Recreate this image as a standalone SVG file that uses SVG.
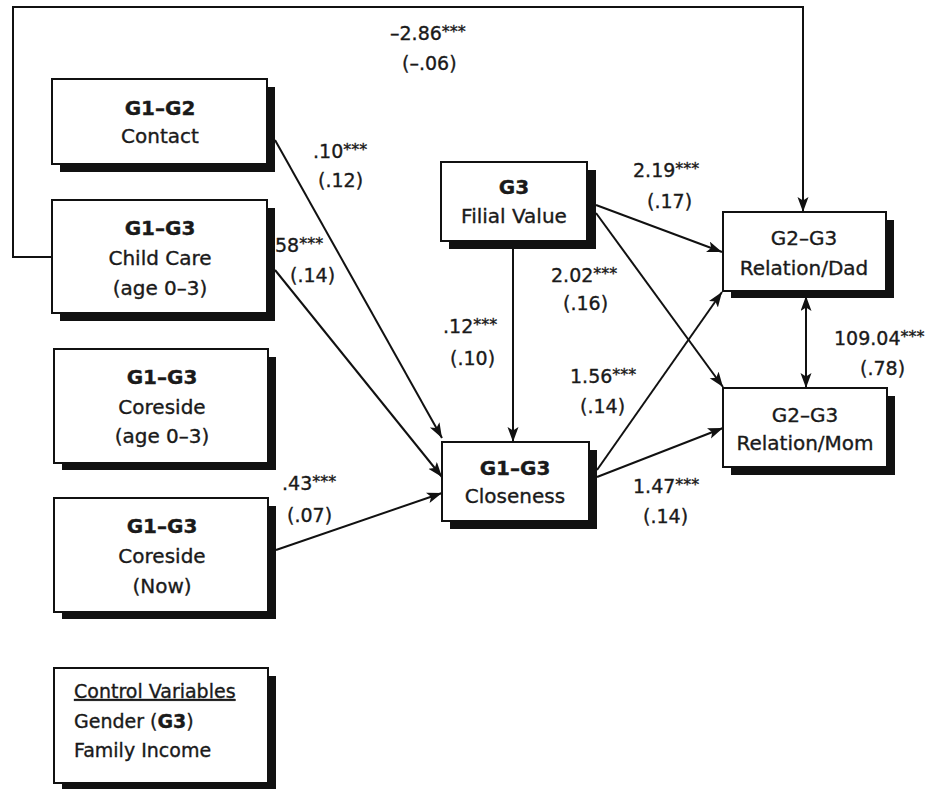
<svg xmlns="http://www.w3.org/2000/svg" width="931" height="789" viewBox="0 0 931 789">
<style>
.shadow{fill:#111}
.box{fill:#fff;stroke:#111;stroke-width:2}
.t{font-family:"DejaVu Sans","Liberation Sans",sans-serif;font-size:20px;fill:#1a1a1a;stroke:#1a1a1a;stroke-width:0.35;text-anchor:middle}
.b{font-weight:bold}
.lab{font-family:"DejaVu Sans","Liberation Sans",sans-serif;font-size:19px;fill:#1a1a1a;stroke:#1a1a1a;stroke-width:0.35}
.st{font-size:16px}
.edge{fill:none;stroke:#111;stroke-width:2}
</style>
<defs>
<marker id="ah" markerUnits="userSpaceOnUse" markerWidth="18" markerHeight="12" refX="15" refY="5.5" orient="auto-start-reverse">
<path d="M0,0 L15,5.5 L0,11 L3.5,5.5 Z" fill="#111"/>
</marker>
</defs>
<rect width="931" height="789" fill="#fff"/>

<g id="connectors">
<path class="edge" d="M52,257 L13,257 L13,7 L803,7 L803,212" marker-end="url(#ah)"/>
<path class="edge" d="M275,140 L442,438" marker-end="url(#ah)"/>
<path class="edge" d="M275,270 L442,477" marker-end="url(#ah)"/>
<path class="edge" d="M276,550 L442,493" marker-end="url(#ah)"/>
<path class="edge" d="M513,248 L513,442" marker-end="url(#ah)"/>
<path class="edge" d="M596,205 L722,252" marker-end="url(#ah)"/>
<path class="edge" d="M596,213 L723,387" marker-end="url(#ah)"/>
<path class="edge" d="M597,470 L722,292" marker-end="url(#ah)"/>
<path class="edge" d="M597,477 L723,428" marker-end="url(#ah)"/>
<path class="edge" d="M806,296 L806,388" marker-start="url(#ah)" marker-end="url(#ah)"/>
</g>

<g id="labels">
<text class="lab" x="390" y="40">–2.86<tspan class="st" dy="-3">***</tspan></text>
<text class="lab" x="402" y="70">(–.06)</text>
<text class="lab" x="313" y="158">.10<tspan class="st" dy="-3">***</tspan></text>
<text class="lab" x="318" y="187">(.12)</text>
<text class="lab" x="275" y="252">58<tspan class="st" dy="-3">***</tspan></text>
<text class="lab" x="290" y="282">(.14)</text>
<text class="lab" x="282" y="490">.43<tspan class="st" dy="-3">***</tspan></text>
<text class="lab" x="287" y="522">(.07)</text>
<text class="lab" x="443" y="333">.12<tspan class="st" dy="-3">***</tspan></text>
<text class="lab" x="450" y="365">(.10)</text>
<text class="lab" x="633" y="177">2.19<tspan class="st" dy="-3">***</tspan></text>
<text class="lab" x="647" y="208">(.17)</text>
<text class="lab" x="551" y="282">2.02<tspan class="st" dy="-3">***</tspan></text>
<text class="lab" x="563" y="310">(.16)</text>
<text class="lab" x="570" y="383">1.56<tspan class="st" dy="-3">***</tspan></text>
<text class="lab" x="580" y="413">(.14)</text>
<text class="lab" x="633" y="493">1.47<tspan class="st" dy="-3">***</tspan></text>
<text class="lab" x="643" y="523">(.14)</text>
<text class="lab" x="834" y="345">109.04<tspan class="st" dy="-3">***</tspan></text>
<text class="lab" x="860" y="375">(.78)</text>
</g>

<g id="contact">
<rect class="shadow" x="60" y="87" width="215" height="85"/>
<rect class="box" x="52" y="79" width="215" height="85"/>
<text class="t b" x="160" y="115">G1–G2</text>
<text class="t" x="160" y="143">Contact</text>
</g>

<g id="childcare">
<rect class="shadow" x="60" y="208" width="215" height="113"/>
<rect class="box" x="52" y="200" width="215" height="113"/>
<text class="t b" x="160" y="235">G1–G3</text>
<text class="t" x="160" y="265">Child Care</text>
<text class="t" x="160" y="295">(age 0–3)</text>
</g>

<g id="coreside03">
<rect class="shadow" x="62" y="357" width="214" height="113"/>
<rect class="box" x="54" y="349" width="214" height="114"/>
<text class="t b" x="162" y="384">G1–G3</text>
<text class="t" x="162" y="414">Coreside</text>
<text class="t" x="162" y="443">(age 0–3)</text>
</g>

<g id="coresidenow">
<rect class="shadow" x="62" y="506" width="214" height="113"/>
<rect class="box" x="54" y="498" width="214" height="114"/>
<text class="t b" x="162" y="533">G1–G3</text>
<text class="t" x="162" y="563">Coreside</text>
<text class="t" x="162" y="593">(Now)</text>
</g>

<g id="controls">
<rect class="shadow" x="62" y="676" width="214" height="115"/>
<rect class="box" x="54" y="668" width="214" height="115"/>
<text class="t" style="text-anchor:start;font-size:19px;text-decoration:underline" x="74" y="698">Control Variables</text>
<text class="t" style="text-anchor:start;font-size:19px" x="74" y="728">Gender (<tspan class="b">G3</tspan>)</text>
<text class="t" style="text-anchor:start;font-size:19px" x="74" y="757">Family Income</text>
</g>

<g id="filial">
<rect class="shadow" x="449" y="170" width="147" height="79"/>
<rect class="box" x="441" y="162" width="146" height="79"/>
<text class="t b" x="514" y="194">G3</text>
<text class="t" x="514" y="223">Filial Value</text>
</g>

<g id="closeness">
<rect class="shadow" x="450" y="450" width="147" height="79"/>
<rect class="box" x="442" y="442" width="147" height="79"/>
<text class="t b" x="515" y="475">G1–G3</text>
<text class="t" x="515" y="503">Closeness</text>
</g>

<g id="dad">
<rect class="shadow" x="731" y="220" width="163" height="78"/>
<rect class="box" x="723" y="212" width="163" height="79"/>
<text class="t" x="804" y="245">G2–G3</text>
<text class="t" x="804" y="275">Relation/Dad</text>
</g>

<g id="mom">
<rect class="shadow" x="731" y="396" width="164" height="79"/>
<rect class="box" x="723" y="388" width="164" height="79"/>
<text class="t" x="805" y="422">G2–G3</text>
<text class="t" x="805" y="450">Relation/Mom</text>
</g>
</svg>
